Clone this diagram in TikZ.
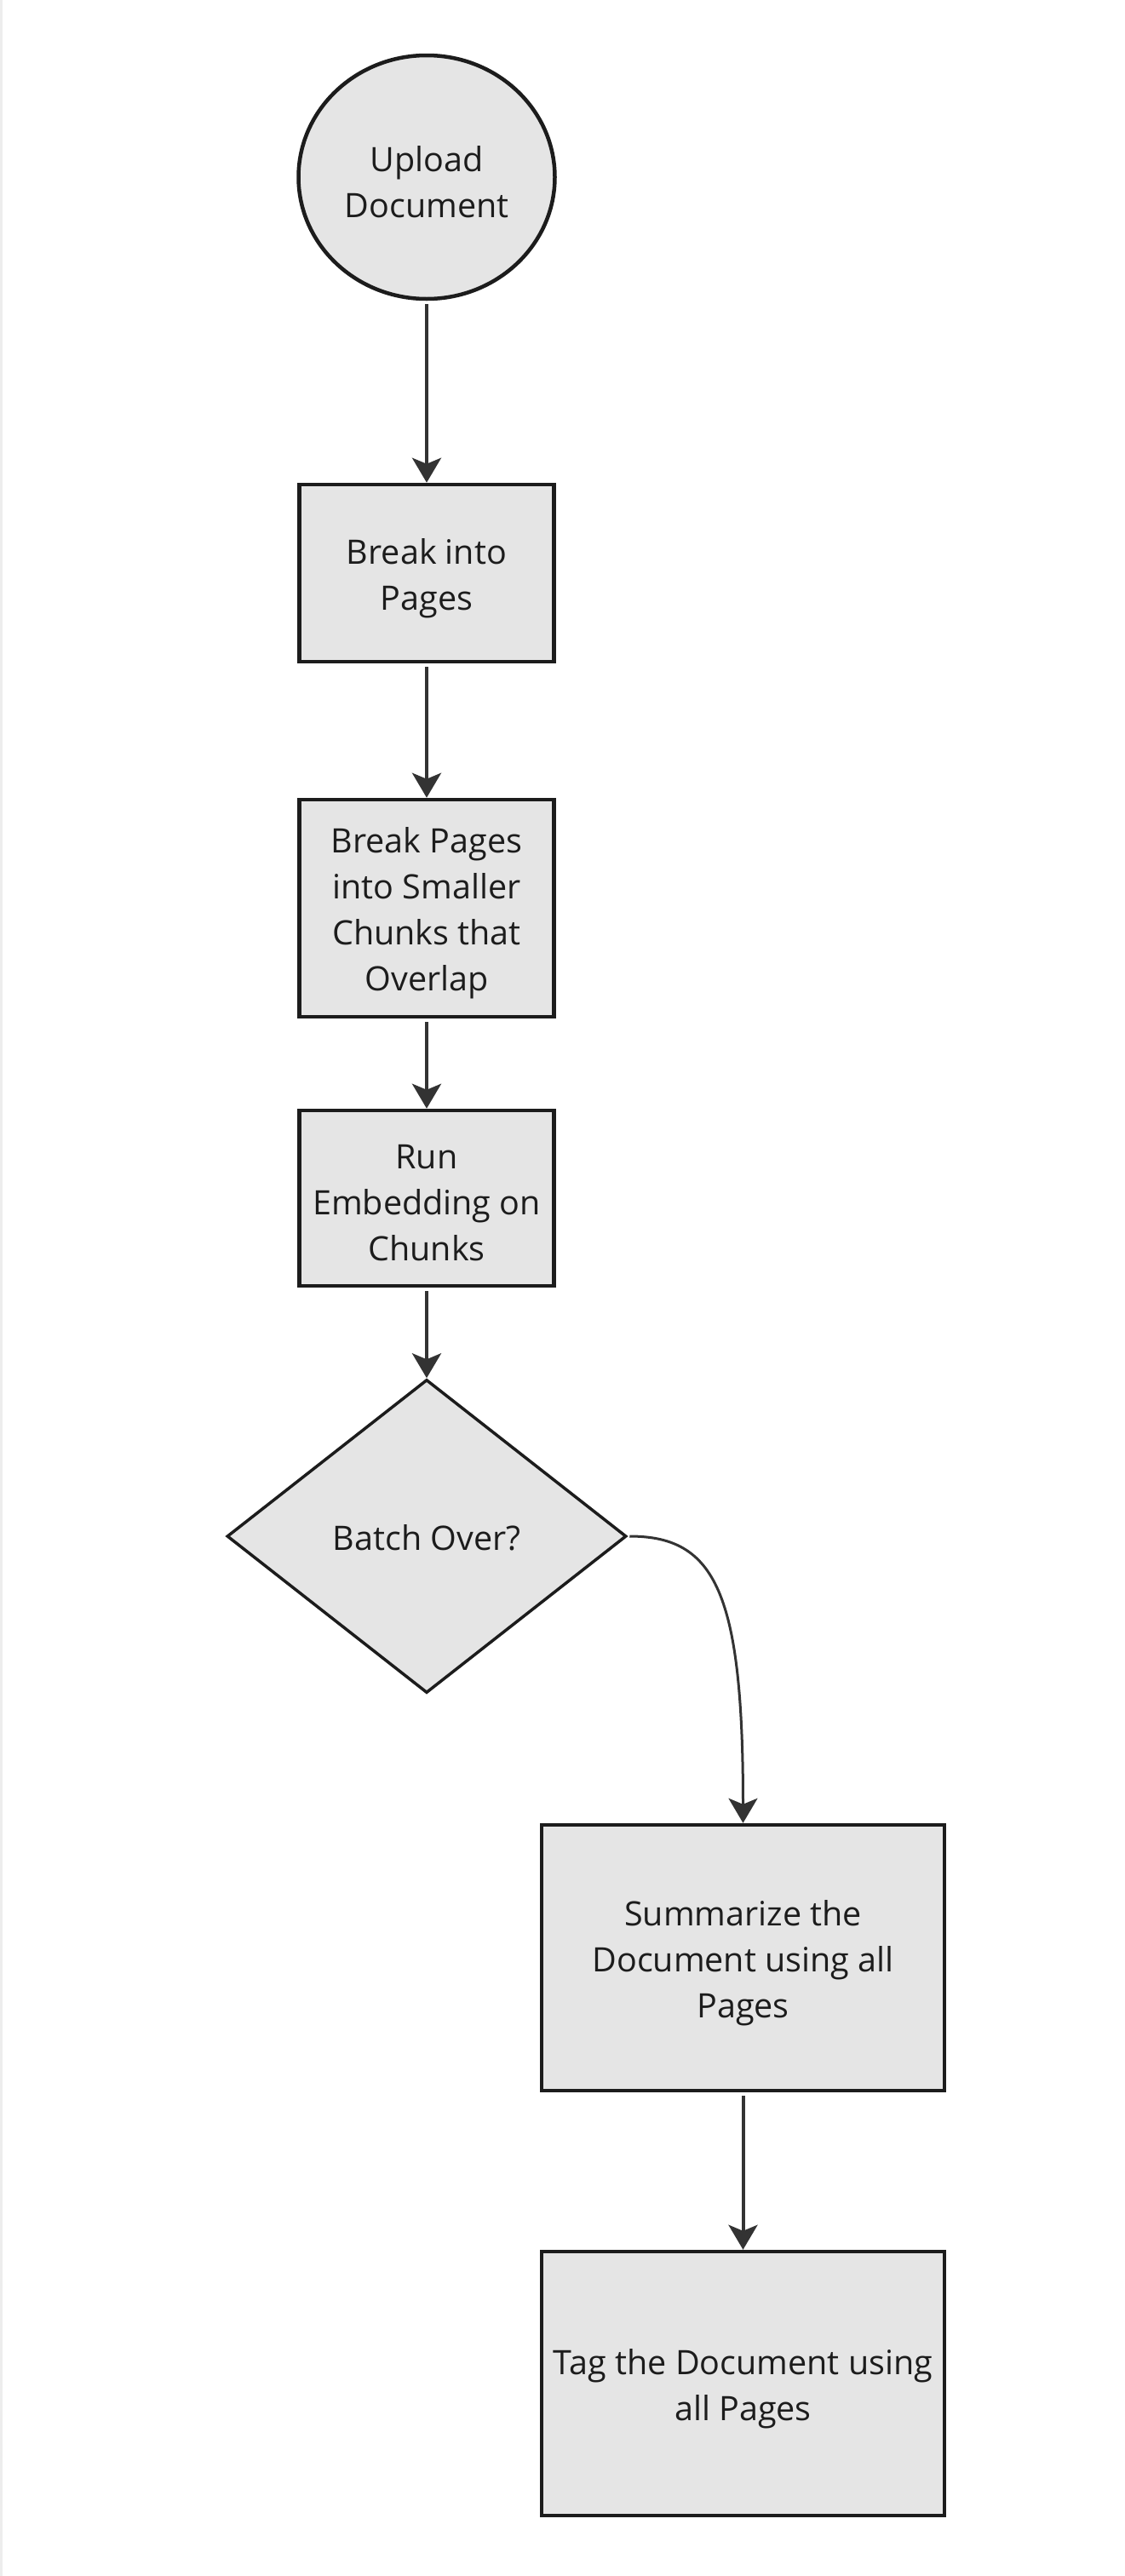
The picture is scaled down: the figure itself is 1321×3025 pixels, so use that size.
\documentclass[tikz,border=0pt]{standalone}
\usepackage{fontspec}
\setmainfont{Open Sans}
\usetikzlibrary{shapes.geometric,arrows.meta}
\definecolor{boxfill}{HTML}{E5E5E5}
\definecolor{boxline}{HTML}{1C1C1C}
\definecolor{arrowc}{HTML}{333333}
\tikzset{
  lbl/.style={font=\fontsize{39.5}{54}\selectfont, text=boxline, align=center},
  txt/.style={label={[lbl, yshift=-6pt]center:{#1}}},
  procbox/.style={draw=boxline, fill=boxfill, line width=4.5pt, rectangle, inner sep=0pt},
  startnode/.style={draw=boxline, fill=boxfill, line width=4.5pt, ellipse, inner sep=0pt,
     minimum width=301pt, minimum height=286pt},
  decision/.style={draw=boxline, fill=boxfill, line width=3.5pt, diamond, inner sep=0pt,
     aspect=1.274, minimum width=469pt, minimum height=368pt},
  conn/.style={draw=arrowc, line width=4pt, -{Stealth[length=29pt,width=34pt,inset=7pt]}, shorten <=4pt},
  curveconn/.style={draw=arrowc, line width=3pt, -{Stealth[length=29pt,width=34pt,inset=7pt]}, shorten <=2pt}
}
\begin{document}
\begin{tikzpicture}[x=1pt,y=-1pt]
\useasboundingbox (0,0) rectangle (1321,3025);
\fill[white] (0,0) rectangle (1321,3025);
\fill[black!7] (0,0) rectangle (2.5,3025);

\node[startnode, txt={Upload\\Document}] (up) at (501,208) {};
\node[procbox, minimum width=299pt, minimum height=208pt, txt={Break into\\Pages}] (b1) at (501,673) {};
\node[procbox, minimum width=299pt, minimum height=255pt, txt={Break Pages\\into Smaller\\Chunks that\\Overlap}] (b2) at (501,1066.5) {};
\node[procbox, minimum width=299pt, minimum height=206pt, txt={Run\\Embedding on\\Chunks}] (b3) at (501,1407) {};
\node[decision, label={[lbl, yshift=-2pt]center:{Batch Over?}}] (dec) at (501,1804) {};
\node[procbox, minimum width=473pt, minimum height=312pt, txt={Summarize the\\Document using all\\Pages}] (b4) at (872.5,2299) {};
\node[procbox, minimum width=473pt, minimum height=310pt, txt={Tag the Document using\\all Pages}] (b5) at (872.5,2799) {};

\draw[conn] (up.south) -- (b1.north);
\draw[conn] (b1.south) -- (b2.north);
\draw[conn] (b2.south) -- (b3.north);
\draw[conn] (b3.south) -- (dec.north);
\draw[curveconn] (dec.east) .. controls (840,1804) and (872.5,1870) .. (b4.north);
\draw[conn] (b4.south) -- (b5.north);
\end{tikzpicture}
\end{document}
